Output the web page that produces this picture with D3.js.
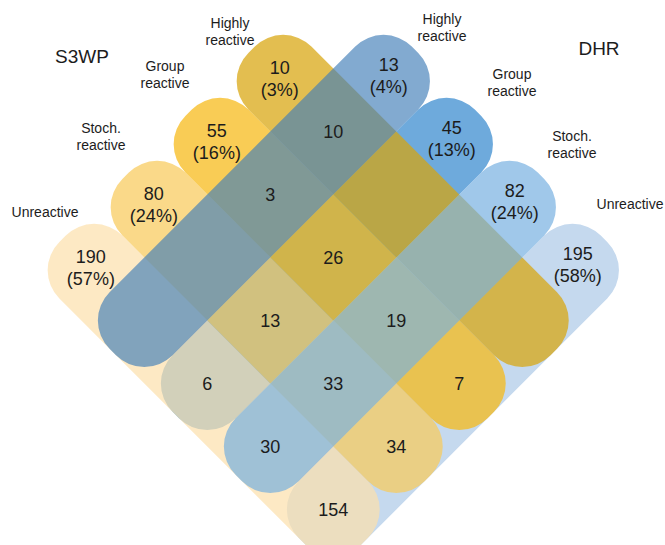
<!DOCTYPE html>
<html><head><meta charset="utf-8">
<script src="https://cdn.jsdelivr.net/npm/d3@7"></script>
<style>
body{margin:0;background:#fff;}
text{font-family:"Liberation Sans",Arial,Helvetica,sans-serif;fill:#1c1c1c;}
</style>
</head><body>
<svg id="chart" width="665" height="545"></svg>
<script>
// ---------- data ----------
const classes = ["Highly reactive", "Group reactive", "Stoch. reactive", "Unreactive"];
const classLines = [["Highly", "reactive"], ["Group", "reactive"], ["Stoch.", "reactive"], ["Unreactive"]];
const s3wpTotals = [10, 55, 80, 190];
const s3wpPct = ["3%", "16%", "24%", "57%"];
const dhrTotals = [13, 45, 82, 195];
const dhrPct = ["4%", "13%", "24%", "58%"];
// counts[i][j] : S3WP class i  x  DHR class j
const counts = [
  [10, 0, 0, 0],
  [3, 26, 19, 7],
  [0, 13, 33, 34],
  [0, 6, 30, 154]
];

// ---------- styles ----------
const s3wpFill = ["#D8A50C", "#F7B913", "#F8CA5C", "#FCE0AB"];
const s3wpAlpha = [0.72, 0.72, 0.72, 0.70];
const dhrFill = ["#427EB8", "#6EAADC", "#6FACDF", "#C5D9EE"];
const dhrAlpha = [0.66, 1, 0.66, 1];
const dhrOnTop = [true, false, true, false];

const svg = d3.select("#chart");
const ox = 333.3, oy = 68.5;           // top vertex of the grid
const gridLen = 356.4;                 // 4 cells along the diagonal
const tip = 71, radius = 40;
const c45 = Math.SQRT1_2;

const band = d3.scaleBand().domain(d3.range(classes.length)).range([0, gridLen]);
const s = band.bandwidth();
const toScreen = (x, y) => [ox + (x - y) * c45, oy + (x + y) * c45];

const g = svg.append("g").attr("transform", `translate(${ox},${oy}) rotate(45)`);

// DHR bands (drawn along local y)
const dhrBand = (sel) => sel.append("rect")
  .attr("x", d => band(d)).attr("y", -tip)
  .attr("width", s).attr("height", gridLen + tip)
  .attr("rx", radius).attr("ry", radius)
  .attr("fill", d => dhrFill[d]).attr("fill-opacity", d => dhrAlpha[d]);

// bottom layer: DHR Group / Unreactive
g.append("g").selectAll("g").data(d3.range(4).filter(j => !dhrOnTop[j])).join("g").call(dhrBand);

// middle layer: S3WP bands (drawn along local x)
g.append("g").selectAll("rect").data(d3.range(4)).join("rect")
  .attr("x", -tip).attr("y", d => band(d))
  .attr("width", gridLen + tip).attr("height", s)
  .attr("rx", radius).attr("ry", radius)
  .attr("fill", d => s3wpFill[d]).attr("fill-opacity", d => s3wpAlpha[d]);

// top layer: DHR Highly / Stoch.
g.append("g").selectAll("g").data(d3.range(4).filter(j => dhrOnTop[j])).join("g").call(dhrBand);

// ---------- texts ----------
const numSize = 18;
function twoLine(x, y, a, b) {
  const t = svg.append("text").attr("text-anchor", "middle").attr("font-size", numSize);
  t.append("tspan").attr("x", x).attr("y", y - 11 + 6.5).text(a);
  t.append("tspan").attr("x", x).attr("y", y + 11 + 6.5).text(b);
}
s3wpTotals.forEach((v, i) => {
  const [x, y] = toScreen(-31, band(i) + s / 2);
  twoLine(x, y, v, `(${s3wpPct[i]})`);
});
dhrTotals.forEach((v, j) => {
  const [x, y] = toScreen(band(j) + s / 2, -34);
  twoLine(x, y, v, `(${dhrPct[j]})`);
});

const cells = [];
counts.forEach((row, i) => row.forEach((v, j) => { if (v > 0) cells.push({ i, j, v }); }));
svg.append("g").selectAll("text").data(cells).join("text")
  .attr("text-anchor", "middle").attr("font-size", numSize)
  .attr("x", d => toScreen(band(d.j) + s / 2, band(d.i) + s / 2)[0])
  .attr("y", d => toScreen(band(d.j) + s / 2, band(d.i) + s / 2)[1] + 6.5)
  .text(d => d.v);

// category labels
const s3wpLabelPos = [[230, 28], [165, 71], [101, 133], [45, 217]];
const dhrLabelPos = [[442, 24], [512, 79], [572, 141], [630, 209]];
function catLabel(pos, i) {
  const t = svg.append("text").attr("text-anchor", "middle").attr("font-size", 14);
  classLines[i].forEach((ln, k) => t.append("tspan").attr("x", pos[0]).attr("y", pos[1] + k * 17).text(ln));
}
s3wpLabelPos.forEach((p, i) => catLabel(p, i));
dhrLabelPos.forEach((p, j) => catLabel(p, j));

svg.append("text").attr("x", 82).attr("y", 63).attr("text-anchor", "middle").attr("font-size", 19).text("S3WP");
svg.append("text").attr("x", 599).attr("y", 55).attr("text-anchor", "middle").attr("font-size", 19).text("DHR");
</script>
</body></html>
